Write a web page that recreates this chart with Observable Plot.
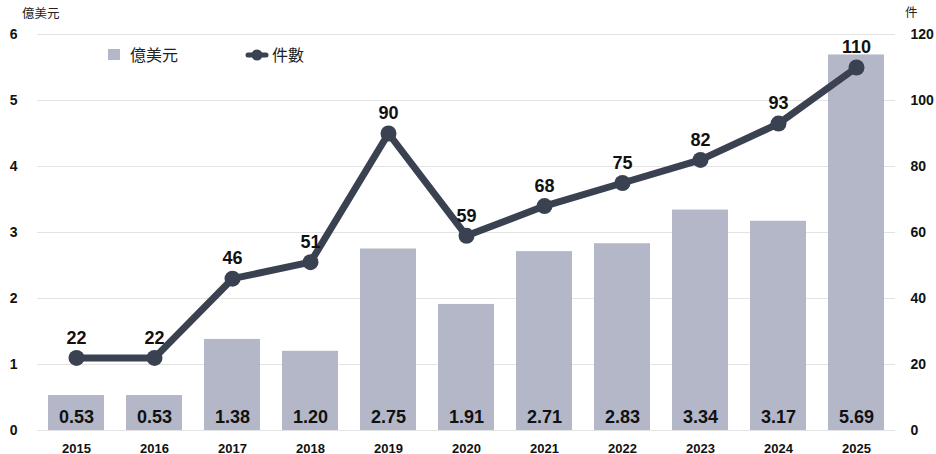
<!DOCTYPE html>
<html>
<head>
<meta charset="utf-8">
<script src="https://cdn.jsdelivr.net/npm/d3@7"></script>
<script src="https://cdn.jsdelivr.net/npm/@observablehq/plot@0.6"></script>
<style>
  html, body { margin: 0; padding: 0; background: #fff; }
  #chart { position: relative; width: 936px; height: 454px; font-family: "Noto Sans CJK TC", "Noto Sans", sans-serif; }
</style>
</head>
<body>
<div id="chart"></div>
<script>
const years = ["2015","2016","2017","2018","2019","2020","2021","2022","2023","2024","2025"];
const amounts = [0.53, 0.53, 1.38, 1.20, 2.75, 1.91, 2.71, 2.83, 3.34, 3.17, 5.69];
const counts = [22, 22, 46, 51, 90, 59, 68, 75, 82, 93, 110];
const leftTicks = [0, 1, 2, 3, 4, 5, 6];
const countPerUnit = 20; // right axis: 0..120 maps onto left 0..6

const barColor = "#b3b7c8";
const lineColor = "#3a4150";

const data = years.map((y, i) => ({year: y, amount: amounts[i], count: counts[i], countY: counts[i] / countPerUnit}));

const fontFamily = "'Liberation Sans', Arial, 'Noto Sans CJK TC', sans-serif";

const plot = Plot.plot({
  width: 936,
  height: 454,
  marginLeft: 37,
  marginRight: 41,
  marginTop: 34,
  marginBottom: 24,
  style: {fontFamily, background: "#fff", overflow: "visible"},
  x: {domain: years, paddingInner: 0.28, paddingOuter: 0.13, label: null},
  y: {domain: [0, 6], label: null},
  marks: [
    Plot.gridY(leftTicks, {stroke: "#e3e3e3", strokeOpacity: 1, strokeWidth: 1}),
    Plot.axisY(leftTicks, {anchor: "left", tickSize: 0, tickPadding: 20, fontSize: 14, fontWeight: "bold", fill: "#111", tickFormat: d3.format("d"), label: null}),
    Plot.axisY(leftTicks, {anchor: "right", tickSize: 0, tickPadding: 15, textAnchor: "start", fontSize: 14, fontWeight: "bold", fill: "#111", tickFormat: d => d * countPerUnit, label: null}),
    Plot.axisX({tickSize: 0, tickPadding: 13, fontSize: 13, fontWeight: "bold", fill: "#111", label: null}),
    Plot.barY(data, {x: "year", y: "amount", fill: barColor}),
    Plot.text(data, {x: "year", y: () => 0, text: d => d.amount.toFixed(2), dy: -13, fontSize: 18, fontWeight: "bold", fill: "#111"}),
    Plot.line(data, {x: "year", y: "countY", stroke: lineColor, strokeWidth: 7, curve: "linear"}),
    Plot.dot(data, {x: "year", y: "countY", r: 8, fill: lineColor, stroke: "none"}),
    Plot.text(data, {x: "year", y: "countY", text: d => String(d.count), dy: -20, fontSize: 18, fontWeight: "bold", fill: "#111"})
  ]
});

document.getElementById("chart").appendChild(plot);

const svg = d3.select(plot);
const cjk = "'Noto Sans CJK TC', 'Noto Sans', sans-serif";
// axis titles
svg.append("text").attr("x", 22).attr("y", 18).attr("text-anchor", "start").attr("font-family", cjk).attr("font-size", 12.5).attr("fill", "#222").text("億美元");
svg.append("text").attr("x", 905).attr("y", 17).attr("text-anchor", "start").attr("font-family", cjk).attr("font-size", 12.5).attr("fill", "#222").text("件");
// legend
const lg = svg.append("g").attr("text-anchor", "start");
lg.append("rect").attr("x", 108).attr("y", 49).attr("width", 12).attr("height", 11).attr("fill", barColor);
lg.append("text").attr("x", 130).attr("y", 61).attr("font-family", cjk).attr("font-size", 16).attr("fill", "#222").text("億美元");
lg.append("line").attr("x1", 248).attr("x2", 266).attr("y1", 55).attr("y2", 55).attr("stroke", lineColor).attr("stroke-width", 5).attr("stroke-linecap", "round");
lg.append("circle").attr("cx", 257).attr("cy", 55).attr("r", 5.5).attr("fill", lineColor);
lg.append("text").attr("x", 272).attr("y", 61).attr("font-family", cjk).attr("font-size", 16).attr("fill", "#222").text("件數");
</script>
</body>
</html>
